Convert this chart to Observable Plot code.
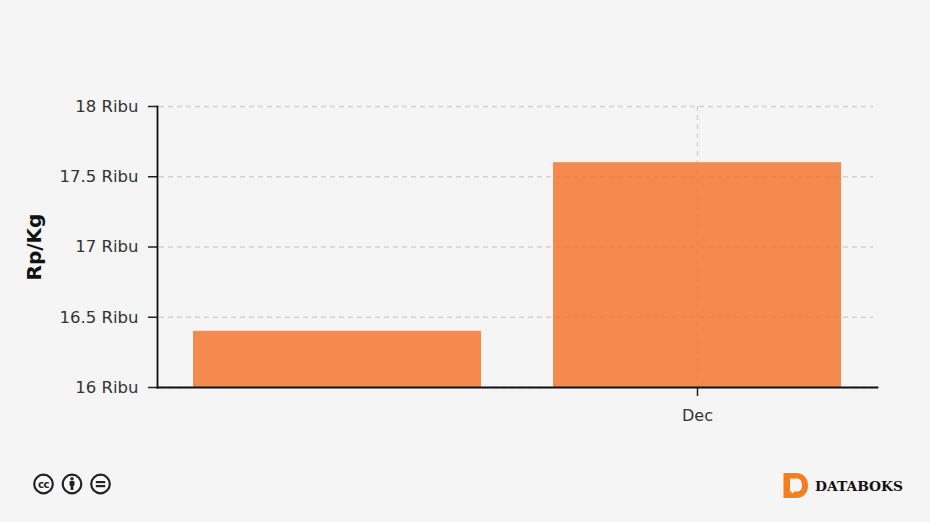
<!DOCTYPE html>
<html>
<head>
<meta charset="utf-8">
<script src="https://cdn.jsdelivr.net/npm/d3@7"></script>
<script src="https://cdn.jsdelivr.net/npm/@observablehq/plot@0.6"></script>
<style>
  html, body { margin: 0; padding: 0; background: #f5f5f5; width: 930px; height: 522px; overflow: hidden; }
  #chart, #marks { position: absolute; left: 0; top: 0; }
  #chart svg { display: block; background: transparent; }
</style>
</head>
<body>
<div id="chart"></div>
<svg id="marks" width="930" height="522" viewBox="0 0 930 522" aria-label="footer">
  <g fill="#fafafa" stroke="#222" stroke-width="2.2">
    <circle cx="43.5" cy="484" r="9.3"></circle>
    <circle cx="72" cy="484" r="9.3"></circle>
    <circle cx="100.5" cy="484" r="9.3"></circle>
  </g>
  <text x="43.5" y="487.5" text-anchor="middle" font-family="DejaVu Sans" font-weight="bold" font-size="10" letter-spacing="-0.5" fill="#222">cc</text>
  <g fill="#222">
    <circle cx="72" cy="478.7" r="1.7"></circle>
    <rect x="69.5" y="481" width="5" height="4.8" rx="1"></rect>
    <rect x="70.6" y="484" width="2.8" height="6"></rect>
    <rect x="95.8" y="481" width="9.4" height="2.2"></rect>
    <rect x="95.8" y="485" width="9.4" height="2.2"></rect>
  </g>
  <path d="M783.5 473 H796 C804 473 808 479 808 485.5 C808 492 804 498 796 498 H783.5 Z" fill="#f47f20"></path>
  <path d="M790 478.5 H796.5 C800 478.5 802 481 802 485.5 C802 489.5 800 491.5 796.5 491.5 H794.5 L791.8 494 V491.5 H790 Z" fill="#f5f5f5"></path>
  <text x="815" y="490.5" font-family="DejaVu Serif" font-weight="bold" font-size="13.8" fill="#111">DATABOKS</text>
</svg>
<script>
const categories = ["", "Dec"];
const values = [16.4, 17.6];
const yTicks = [16, 16.5, 17, 17.5, 18];
const yTickUnit = "Ribu";
const yLabel = "Rp/Kg";
const rows = categories.map((c, i) => ({category: c, value: values[i]}));

const chart = Plot.plot({
  width: 930,
  height: 522,
  marginLeft: 157,
  marginRight: 53,
  marginTop: 106,
  marginBottom: 135,
  style: {background: "transparent", fontFamily: "DejaVu Sans", fontSize: "16px", color: "#333"},
  x: {domain: categories, paddingInner: 0.2, paddingOuter: 0.1, align: 0.5, round: false, label: null},
  y: {domain: [16, 18], label: null},
  marks: [
    Plot.gridY(yTicks, {stroke: "#d2d2d2", strokeOpacity: 1, strokeWidth: 1.4, strokeDasharray: "5 4", insetLeft: 2, insetRight: 4}),
    Plot.gridX(["Dec"], {stroke: "#d2d2d2", strokeOpacity: 1, strokeWidth: 1.4, strokeDasharray: "5 4"}),
    Plot.barY(rows, {x: "category", y1: () => 16, y2: "value", fill: "#f3772f", fillOpacity: 0.85}),
    Plot.axisY({ticks: yTicks, tickSize: 9, tickPadding: 10, stroke: "#222", strokeWidth: 1.5, tickFormat: d => `${d} ${yTickUnit}`, label: null, fontSize: 16.5, fill: "#333"}),
    Plot.axisX({ticks: ["Dec"], tickSize: 9, tickPadding: 13, stroke: "#222", strokeWidth: 1.5, label: null, fontSize: 16, fill: "#333"}),
    Plot.frame({anchor: "left", stroke: "#111", strokeWidth: 1.8}),
    Plot.frame({anchor: "bottom", stroke: "#111", strokeWidth: 1.8}),
    Plot.text([yLabel], {frameAnchor: "left", dx: -123, rotate: -90, textAnchor: "middle", fontWeight: "bold", fontSize: 20, fill: "#111"})
  ]
});
document.getElementById("chart").appendChild(chart);
</script>
</body>
</html>
